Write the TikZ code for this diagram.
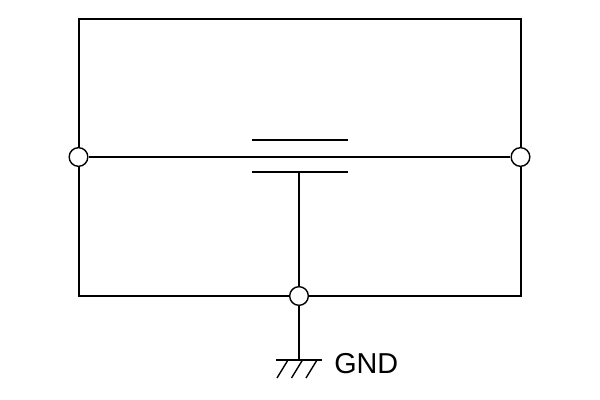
\documentclass[tikz,border=0pt]{standalone}
\usepackage{fontspec}
\setmainfont{Liberation Sans}
\usetikzlibrary{positioning}
\tikzset{
  wire/.style={line width=1.05pt},
  plate/.style={line width=1.05pt},
  terminal/.style={circle,draw,fill=white,line width=1.05pt,minimum size=14pt,inner sep=0pt},
}
\begin{document}
\begin{tikzpicture}[line cap=butt,line join=miter,x=0.75pt,y=0.75pt]
\useasboundingbox (0,0) rectangle (600,400);
\coordinate (topleft) at (79,381);
\coordinate (topright) at (521,381);
\coordinate (botleft) at (79,104);
\coordinate (botright) at (521,104);
\coordinate (upperl) at (252,260);
\coordinate (upperr) at (348,260);
\coordinate (lowerl) at (252,228);
\coordinate (lowerr) at (348,228);
\coordinate (lowerm) at (299,228);
\coordinate (gnd) at (299,40);
\coordinate (gndl) at (276,40);
\coordinate (gndr) at (322,40);
\coordinate (ha) at (288,40);
\coordinate (hb) at (302.5,40);
\coordinate (hc) at (317,40);
\coordinate (hd) at (277,22);
\coordinate (he) at (291.5,22);
\coordinate (hf) at (306,22);
\draw [wire] (botleft)-- (topleft)-- (topright)-- (botright)-- cycle;
\node [terminal] (left) at (78.5,243) {};
\node [terminal] (right) at (520.5,243) {};
\node [terminal] (bottom) at (299,104) {};
\draw [wire] (left)-- (right);
\draw [plate] (upperl)-- (upperr);
\draw [plate] (lowerl)-- (lowerr);
\draw [wire] (lowerm)-- (bottom);
\draw [wire] (bottom)-- (gnd);
\draw [wire] (gndl)-- (gndr);
\draw [wire] (ha)-- (hd);
\draw [wire] (hb)-- (he);
\draw [wire] (hc)-- (hf);
\node [anchor=west,inner sep=0pt,font=\fontsize{21.6}{26}\selectfont] (gndlabel) at (334,36) {GND};
\end{tikzpicture}
\end{document}
